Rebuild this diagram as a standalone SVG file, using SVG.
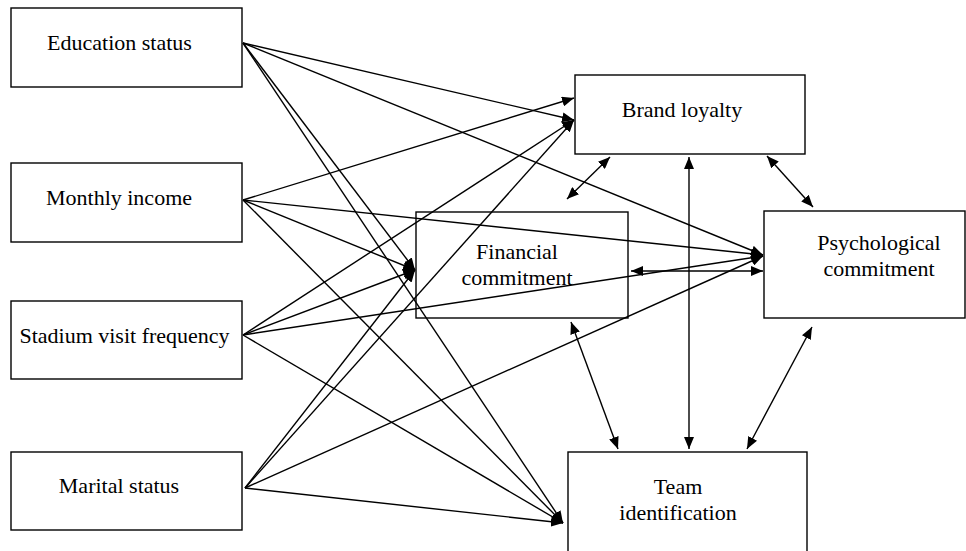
<svg xmlns="http://www.w3.org/2000/svg" width="966" height="551" viewBox="0 0 966 551">
<style>
.box{fill:#fff;stroke:#000;stroke-width:1.4}
.lbl{font-family:'Liberation Serif','DejaVu Serif',serif;font-size:22px;fill:#000;text-anchor:middle}
.c{stroke:#000;stroke-width:1.4;fill:none;marker-end:url(#ah)}
.d{stroke:#000;stroke-width:1.4;fill:none;marker-start:url(#ah);marker-end:url(#ah)}
</style>
<defs>
<marker id="ah" markerUnits="userSpaceOnUse" markerWidth="13" markerHeight="10" refX="12" refY="5" orient="auto-start-reverse" viewBox="0 0 13 10">
<path d="M0,0 L12,5 L0,10 z" fill="#000"/>
</marker>
</defs>
<rect width="966" height="551" fill="#fff"/>
<g id="education"><rect class="box" x="11" y="8" width="231" height="79"/><text class="lbl" x="119.5" y="50">Education status</text></g>
<g id="income"><rect class="box" x="11" y="163" width="231" height="79"/><text class="lbl" x="119" y="205">Monthly income</text></g>
<g id="stadium"><rect class="box" x="11" y="301" width="231" height="78"/><text class="lbl" x="124.5" y="343">Stadium visit frequency</text></g>
<g id="marital"><rect class="box" x="11" y="452" width="231" height="78"/><text class="lbl" x="119" y="493">Marital status</text></g>
<g id="brand"><rect class="box" x="575" y="75" width="230" height="79"/><text class="lbl" x="682" y="117">Brand loyalty</text></g>
<g id="financial"><rect class="box" x="416" y="212" width="212" height="106"/><text class="lbl" x="517" y="259">Financial</text><text class="lbl" x="517" y="285">commitment</text></g>
<g id="psych"><rect class="box" x="764" y="211" width="201" height="107"/><text class="lbl" x="879" y="250">Psychological</text><text class="lbl" x="879" y="276">commitment</text></g>
<g id="team"><rect class="box" x="568" y="452" width="239" height="110"/><text class="lbl" x="678" y="494">Team</text><text class="lbl" x="678" y="520">identification</text></g>
<g id="connectors">
<line class="c" x1="243" y1="43" x2="574" y2="120"/>
<line class="c" x1="243" y1="43" x2="763" y2="255"/>
<line class="c" x1="243" y1="43" x2="415" y2="270"/>
<line class="c" x1="243" y1="43" x2="563" y2="523"/>
<line class="c" x1="243" y1="200" x2="574" y2="98"/>
<line class="c" x1="243" y1="200" x2="763" y2="255"/>
<line class="c" x1="243" y1="200" x2="415" y2="270"/>
<line class="c" x1="243" y1="200" x2="563" y2="523"/>
<line class="c" x1="243" y1="335" x2="574" y2="120"/>
<line class="c" x1="243" y1="335" x2="415" y2="270"/>
<line class="c" x1="243" y1="335" x2="763" y2="256"/>
<line class="c" x1="243" y1="335" x2="563" y2="523"/>
<line class="c" x1="245" y1="488" x2="574" y2="120"/>
<line class="c" x1="245" y1="488" x2="415" y2="270"/>
<line class="c" x1="245" y1="488" x2="763" y2="256"/>
<line class="c" x1="245" y1="488" x2="563" y2="523"/>
<line class="d" x1="610" y1="157" x2="567" y2="199"/>
<line class="d" x1="767" y1="156" x2="813" y2="207"/>
<line class="d" x1="689" y1="157" x2="689" y2="449"/>
<line class="d" x1="631" y1="271" x2="763" y2="271"/>
<line class="d" x1="571" y1="322" x2="618" y2="449"/>
<line class="d" x1="812" y1="327" x2="747" y2="449"/>
</g>
</svg>
